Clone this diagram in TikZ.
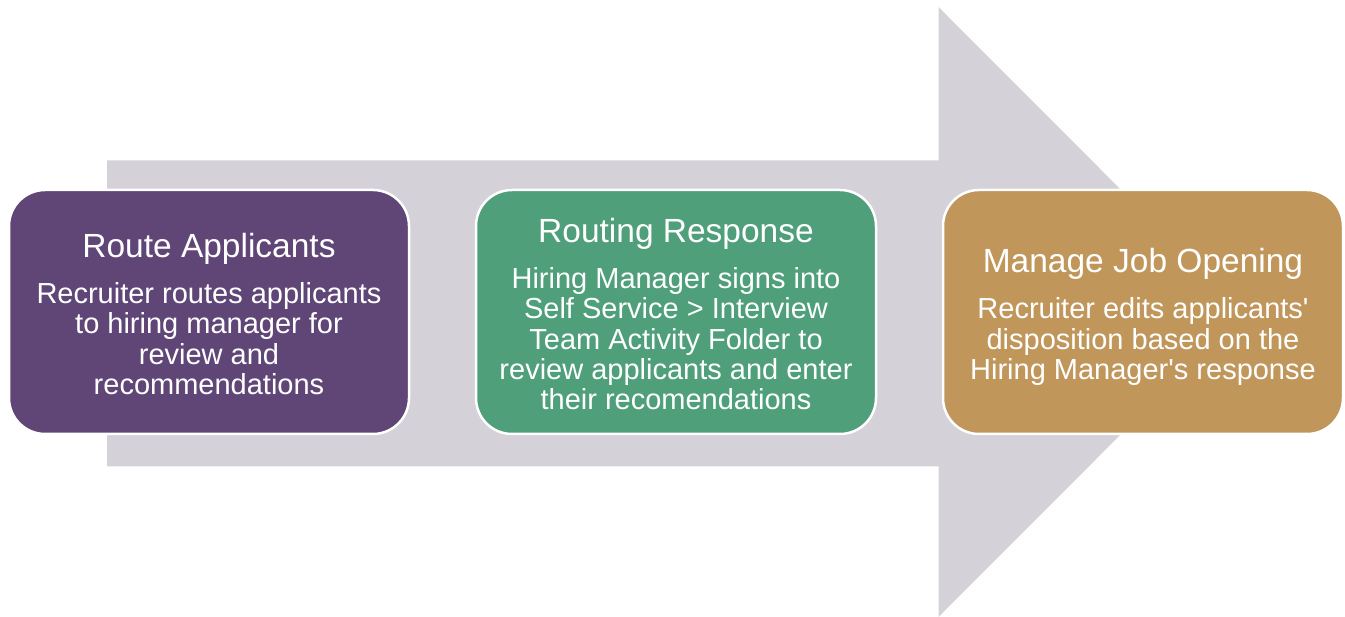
\documentclass[tikz,border=0pt]{standalone}
\usepackage{fontspec}
\setmainfont{Liberation Sans}
\definecolor{arrowgray}{HTML}{D4D1D9}
\definecolor{cpurple}{HTML}{5F4677}
\definecolor{cgreen}{HTML}{4E9F7A}
\definecolor{ctan}{HTML}{C0965B}
\tikzset{
  stepbox/.style={draw=white, line width=2.5pt, rounded corners=36pt,
    minimum width=400pt, minimum height=244pt, inner sep=0pt},
  steptext/.style={text=white, align=center,
    font=\fontsize{29}{30.3}\selectfont, inner sep=0pt}
}
\newcommand{\boxtitle}[1]{{\fontsize{33.5}{36}\selectfont #1}\\[16pt]}
\newcommand{\aps}{\textquotesingle}
\begin{document}
\begin{tikzpicture}[x=1pt,y=-1pt]
\useasboundingbox (0,0) rectangle (1345,617);
\fill[arrowgray] (107,160.5) -- (938.5,160.5) -- (938.5,7) -- (1243,312) -- (938.5,617) -- (938.5,466.5) -- (107,466.5) -- cycle;
\node[stepbox, fill=cpurple] (b1) at (209,312) {};
\node[stepbox, fill=cgreen] (b2) at (676,312) {};
\node[stepbox, fill=ctan] (b3) at (1143,312) {};
\node[steptext] (t1) at ([yshift=-2pt]b1.center) {\boxtitle{Route Applicants}Recruiter routes applicants\\to hiring manager for\\review and\\recommendations};
\node[steptext] (t2) at ([yshift=-2pt]b2.center) {\boxtitle{Routing Response}Hiring Manager signs into\\Self Service > Interview\\Team Activity Folder to\\review applicants and enter\\their recomendations};
\node[steptext] (t3) at ([yshift=-5pt]b3.center) {\boxtitle{Manage Job Opening}Recruiter edits applicants\aps\\disposition based on the\\Hiring Manager\aps s response};
\end{tikzpicture}
\end{document}
